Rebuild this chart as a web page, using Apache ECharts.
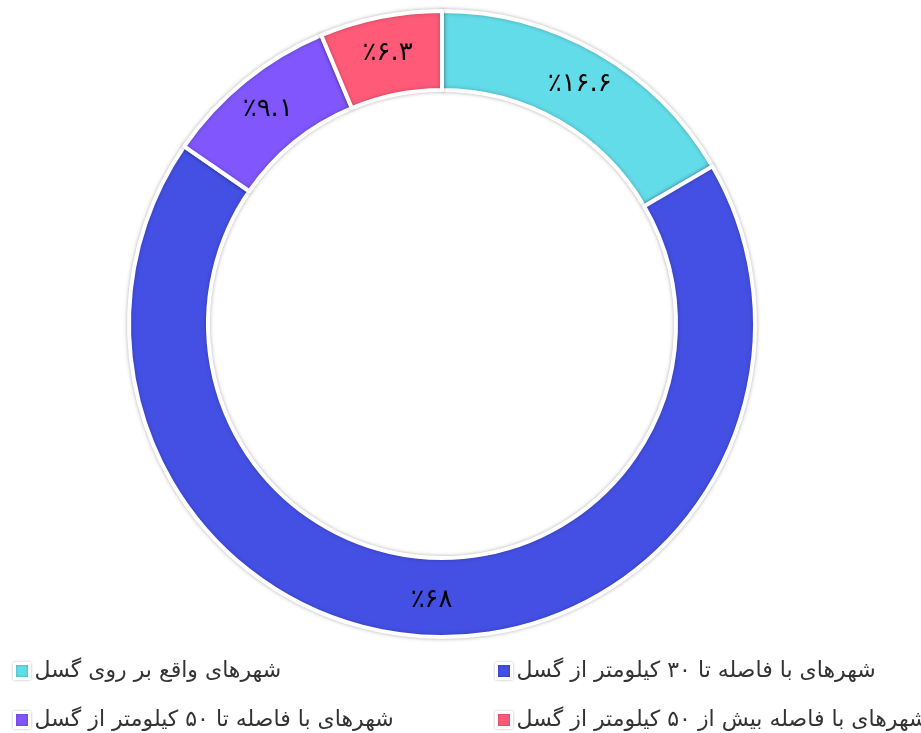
<!DOCTYPE html>
<html>
<head>
<meta charset="utf-8">
<script src="https://cdn.jsdelivr.net/npm/echarts@6/dist/echarts.min.js"></script>
<style>
  html, body { margin: 0; padding: 0; background: #fff; }
  #chart { width: 921px; height: 733px; }
</style>
</head>
<body>
<div id="chart"></div>
<script>
  // داده ها
  var names = [
    'شهرهای واقع بر روی گسل',
    'شهرهای با فاصله تا ۳۰ کیلومتر از گسل',
    'شهرهای با فاصله تا ۵۰ کیلومتر از گسل',
    'شهرهای با فاصله بیش از ۵۰ کیلومتر از گسل'
  ];
  var values = [16.6, 68, 9.1, 6.3];
  var colors = ['#63dcea', '#4450e4', '#8157fd', '#ff5b79'];

  function toFa(n) {
    var d = '۰۱۲۳۴۵۶۷۸۹';
    return String(n).replace(/[0-9]/g, function (c) { return d[+c]; });
  }

  var data = [];
  for (var i = 0; i < names.length; i++) {
    data.push({ name: names[i], value: values[i] });
  }

  var legendPos = [[8, 655], [490, 655], [8, 704], [490, 704]];
  var legends = [];
  for (var j = 0; j < names.length; j++) {
    legends.push({
      data: [names[j]],
      left: legendPos[j][0],
      top: legendPos[j][1],
      itemWidth: 15,
      itemHeight: 15,
      itemGap: 4,
      icon: 'rect',
      itemStyle: {
        borderColor: '#fff',
        borderWidth: 3,
        shadowBlur: 3,
        shadowColor: 'rgba(0,0,0,0.25)'
      },
      textStyle: { fontFamily: 'DejaVu Sans', fontSize: 22, color: '#333' }
    });
  }

  var myChart = echarts.init(document.getElementById('chart'));
  var option = {
    color: colors,
    animation: false,
    legend: legends,
    series: [{
      type: 'pie',
      center: [442, 324],
      radius: [234, 313],
      startAngle: 90,
      clockwise: true,
      avoidLabelOverlap: false,
      data: data,
      itemStyle: {
        borderColor: '#fff',
        borderWidth: 4,
        shadowBlur: 4,
        shadowColor: 'rgba(0,0,0,0.25)'
      },
      label: {
        show: true,
        position: 'inside',
        color: '#000',
        fontSize: 26,
        fontFamily: 'DejaVu Sans',
        formatter: function (p) { return '٪' + toFa(p.value); }
      },
      labelLine: { show: false }
    }]
  };
  myChart.setOption(option);
</script>
</body>
</html>
